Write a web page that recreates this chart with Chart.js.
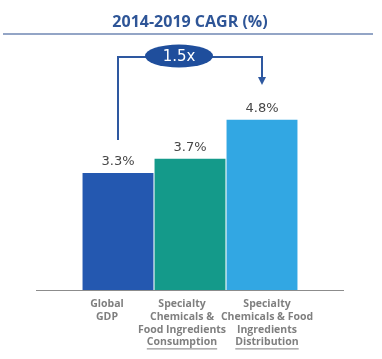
<!DOCTYPE html>
<html>
<head>
<meta charset="utf-8">
<script src="https://cdn.jsdelivr.net/npm/chart.js@4/dist/chart.umd.min.js"></script>
<style>
    html, body { margin: 0; padding: 0; background: #fff; }
    #wrap { width: 382px; height: 359px; }
</style>
</head>
<body>
<div id="wrap"><canvas id="cagrChart" width="382" height="359"></canvas></div>
<script>
const categories = [
    ['Global', 'GDP'],
    ['Specialty', 'Chemicals &', 'Food Ingredients', 'Consumption'],
    ['Specialty', 'Chemicals & Food', 'Ingredients', 'Distribution']
];
const underlineLast = [false, true, true];
const cagrValues = [3.3, 3.7, 4.8];
const barColors = ['#2458B0', '#149A8A', '#32A7E3'];
const multipleLabel = '1.5x';
const titleText = '2014-2019 CAGR (%)';

// title rule, value labels, category labels and the 1.5x bracket
const decorations = {
    id: 'decorations',
    afterDraw(chart) {
        const ctx = chart.ctx,
            x = chart.scales.x,
            y = chart.scales.y,
            meta = chart.getDatasetMeta(0);

        ctx.save();
        // line under the title
        ctx.strokeStyle = '#6F87B3';
        ctx.lineWidth = 1.5;
        ctx.beginPath();
        ctx.moveTo(3, 34);
        ctx.lineTo(373, 34);
        ctx.stroke();

        // baseline extending beyond the bars
        ctx.strokeStyle = '#8C8C8C';
        ctx.lineWidth = 1;
        ctx.beginPath();
        ctx.moveTo(chart.chartArea.left - 46, y.getPixelForValue(0) + 0.5);
        ctx.lineTo(chart.chartArea.right + 46, y.getPixelForValue(0) + 0.5);
        ctx.stroke();

        // value labels
        ctx.fillStyle = '#474747';
        ctx.font = '13px "DejaVu Sans"';
        ctx.textAlign = 'center';
        ctx.textBaseline = 'middle';
        meta.data.forEach((bar, i) => {
            ctx.fillText(cagrValues[i].toFixed(1) + '%', bar.x, bar.y - 11);
        });

        // category labels
        const shift = [-11, -8, 5];
        ctx.fillStyle = '#7F7F7F';
        ctx.strokeStyle = '#7F7F7F';
        ctx.font = 'bold 10.5px "Open Sans"';
        categories.forEach((lines, i) => {
            const cx = x.getPixelForValue(i) + shift[i];
            lines.forEach((line, j) => {
                const ly = y.getPixelForValue(0) + 14 + j * 12.8;
                ctx.fillText(line, cx, ly);
                if (underlineLast[i] && j === lines.length - 1) {
                    const w = ctx.measureText(line).width;
                    ctx.beginPath();
                    ctx.moveTo(cx - w / 2, ly + 6.5);
                    ctx.lineTo(cx + w / 2, ly + 6.5);
                    ctx.stroke();
                }
            });
        });

        // bracket from first bar to last bar
        const leftX = meta.data[0].x,
            rightX = meta.data[2].x,
            topY = 57;
        ctx.strokeStyle = '#2E58A0';
        ctx.fillStyle = '#2E58A0';
        ctx.lineWidth = 2;
        ctx.beginPath();
        ctx.moveTo(leftX, meta.data[0].y - 33);
        ctx.lineTo(leftX, topY);
        ctx.lineTo(rightX, topY);
        ctx.lineTo(rightX, 79);
        ctx.stroke();
        ctx.beginPath();
        ctx.moveTo(rightX - 4, 77);
        ctx.lineTo(rightX + 4, 77);
        ctx.lineTo(rightX, 85);
        ctx.closePath();
        ctx.fill();

        // ellipse badge
        const ex = (leftX + rightX) / 2 - 11;
        ctx.fillStyle = '#1F4E9C';
        ctx.beginPath();
        ctx.ellipse(ex, 56, 34, 11.5, 0, 0, Math.PI * 2);
        ctx.fill();
        ctx.fillStyle = '#FFFFFF';
        ctx.font = '15px "DejaVu Sans"';
        ctx.fillText(multipleLabel, ex, 57);
        ctx.restore();
    }
};

new Chart(document.getElementById('cagrChart'), {
    type: 'bar',
    data: {
        labels: categories,
        datasets: [{
            data: cagrValues,
            backgroundColor: barColors,
            borderWidth: 0,
            categoryPercentage: 1,
            barPercentage: 0.985
        }]
    },
    options: {
        responsive: false,
        animation: false,
        layout: {
            padding: { left: 82, right: 84, top: 0, bottom: 69 }
        },
        plugins: {
            legend: { display: false },
            tooltip: { enabled: false },
            title: {
                display: true,
                text: titleText,
                color: '#2E5597',
                font: { family: 'Open Sans', size: 16, weight: 'bold' },
                padding: { top: 13, bottom: 45 }
            }
        },
        scales: {
            x: {
                display: false
            },
            y: {
                display: false,
                min: 0,
                max: 6
            }
        }
    },
    plugins: [decorations]
});
</script>
</body>
</html>
